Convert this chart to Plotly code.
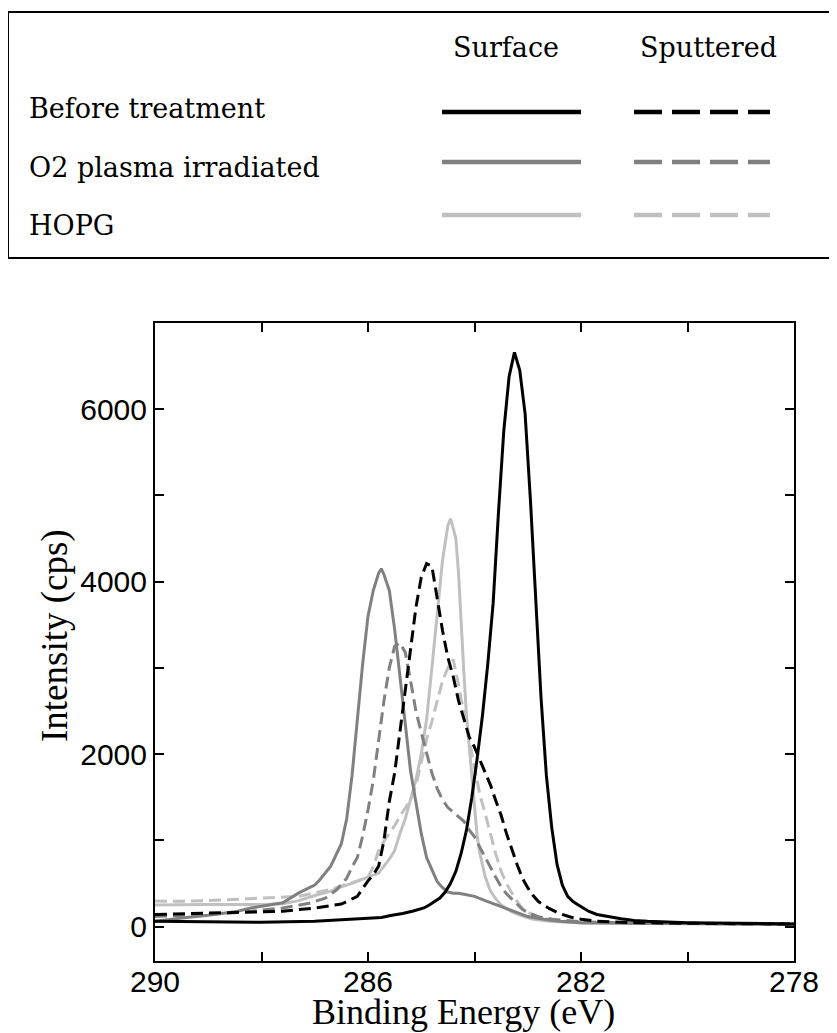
import plotly.graph_objects as go

# ---------------- data (binding energy in eV, intensity in cps) ----------------
before_surface_E = [290.0, 289.0, 288.0, 287.0, 286.5, 285.95, 285.75, 285.55, 285.35, 285.15, 285.05,
                    284.95, 284.85, 284.75, 284.65, 284.55, 284.45, 284.35, 284.25, 284.15, 284.05,
                    283.95, 283.85, 283.75, 283.65, 283.55, 283.45, 283.35, 283.25, 283.15, 283.05,
                    282.95, 282.85, 282.75, 282.65, 282.55, 282.45, 282.35, 282.25, 282.15, 282.05,
                    281.95, 281.85, 281.7, 281.5, 281.25, 281.0, 280.75, 280.0, 279.0, 278.0]
before_surface_I = [60, 55, 50, 60, 75, 95, 105, 130, 150, 180, 195,
                    215, 250, 285, 330, 400, 500, 640, 850, 1120, 1500,
                    1950, 2450, 3050, 3750, 4800, 5750, 6380, 6660, 6450, 5950,
                    4950, 3750, 2650, 1750, 1150, 720, 480, 350, 290, 250,
                    210, 175, 140, 115, 90, 70, 60, 45, 35, 30]

before_sputter_E = [290.0, 289.0, 288.8, 288.0, 287.6, 287.0, 286.5, 286.2, 286.0, 285.9, 285.8,
                    285.7, 285.6, 285.5, 285.4, 285.3, 285.2, 285.1, 285.0, 284.9, 284.8,
                    284.7, 284.6, 284.5, 284.4, 284.3, 284.2, 284.1, 284.0, 283.9, 283.8,
                    283.7, 283.6, 283.5, 283.4, 283.3, 283.2, 283.1, 283.0, 282.9, 282.8,
                    282.6, 282.4, 282.2, 282.0, 281.7, 281.0, 280.0, 279.0, 278.0]
before_sputter_I = [140, 155, 160, 165, 177, 215, 260, 350, 530, 600, 700,
                    1000, 1450, 1780, 2250, 2750, 3200, 3700, 4050, 4210, 4180,
                    3780, 3430, 3120, 2900, 2620, 2400, 2200, 2080, 1930, 1790,
                    1640, 1460, 1290, 1080, 890, 720, 560, 450, 360, 290,
                    210, 150, 110, 85, 60, 45, 38, 32, 28]

o2_surface_E = [290.0, 289.5, 289.0, 288.5, 288.2, 287.8, 287.6, 287.3, 287.0, 286.9, 286.7,
                286.5, 286.4, 286.3, 286.2, 286.1, 286.0, 285.9, 285.8, 285.75, 285.7,
                285.6, 285.5, 285.4, 285.3, 285.2, 285.1, 285.0, 284.9, 284.8, 284.7,
                284.6, 284.5, 284.4, 284.3, 284.2, 284.0, 283.8, 283.5, 283.3, 283.0,
                282.7, 282.4, 282.0, 281.0, 280.0, 279.0, 278.0]
o2_surface_I = [60, 100, 130, 170, 215, 250, 275, 390, 480, 545, 700,
                960, 1250, 1750, 2400, 3050, 3600, 3900, 4100, 4150, 4080,
                3900, 3450, 2860, 2350, 1800, 1450, 1080, 800, 650, 520,
                450, 400, 385, 385, 375, 350, 300, 230, 180, 115,
                85, 60, 45, 38, 32, 28, 25]

o2_sputter_E = [290.0, 289.5, 289.0, 288.5, 288.2, 287.6, 287.1, 286.8, 286.6, 286.4, 286.3,
                286.2, 286.1, 286.0, 285.9, 285.8, 285.7, 285.6, 285.5, 285.4, 285.3,
                285.2, 285.1, 285.0, 284.9, 284.8, 284.7, 284.6, 284.5, 284.4, 284.3,
                284.2, 284.1, 284.0, 283.9, 283.8, 283.7, 283.6, 283.5, 283.4, 283.3,
                283.2, 283.1, 283.0, 282.8, 282.5, 282.0, 281.0, 280.0, 279.0, 278.0]
o2_sputter_I = [115, 130, 140, 160, 177, 215, 270, 330, 420, 560, 690,
                800, 1050, 1350, 1700, 2150, 2620, 3000, 3250, 3290, 3180,
                2850, 2500, 2250, 2000, 1780, 1600, 1470, 1380, 1330, 1270,
                1220, 1120, 1040, 920, 800, 690, 570, 460, 380, 320,
                260, 200, 160, 115, 80, 55, 40, 35, 30, 27]

hopg_surface_E = [290.0, 289.5, 289.0, 288.5, 288.0, 287.6, 287.3, 287.0, 286.7, 286.5, 286.3,
                  286.1, 285.9, 285.8, 285.7, 285.6, 285.5, 285.4, 285.3, 285.2, 285.1,
                  285.0, 284.9, 284.8, 284.7, 284.6, 284.5, 284.45, 284.4, 284.35, 284.3,
                  284.25, 284.2, 284.15, 284.1, 284.05, 284.0, 283.95, 283.9, 283.8, 283.7,
                  283.6, 283.5, 283.3, 283.1, 282.9, 282.6, 282.0, 281.0, 280.0, 279.0, 278.0]
hopg_surface_I = [250, 255, 255, 255, 255, 265, 300, 360, 410, 460, 500,
                  550, 600, 620, 700, 780, 880, 1080, 1250, 1480, 1700,
                  2000, 2400, 3000, 3600, 4250, 4650, 4730, 4620, 4500, 4100,
                  3450, 2950, 2450, 2100, 1750, 1450, 1050, 850, 580, 410,
                  320, 250, 170, 120, 85, 60, 42, 35, 30, 27, 25]

hopg_sputter_E = [290.0, 289.5, 289.0, 288.2, 287.3, 286.7, 286.3, 286.0, 285.9, 285.8, 285.7,
                  285.6, 285.5, 285.4, 285.3, 285.2, 285.1, 285.0, 284.9, 284.8, 284.7,
                  284.6, 284.5, 284.4, 284.3, 284.2, 284.1, 284.0, 283.9, 283.8, 283.7,
                  283.6, 283.5, 283.4, 283.3, 283.2, 283.1, 283.0, 282.8, 282.5, 282.0,
                  281.0, 280.0, 279.0, 278.0]
hopg_sputter_I = [295, 293, 300, 320, 350, 430, 505, 570, 700, 880, 990,
                  1080, 1170, 1280, 1380, 1470, 1640, 1900, 2170, 2380, 2600,
                  2850, 3000, 3100, 2800, 2480, 2160, 1880, 1530, 1310, 1060,
                  840, 640, 500, 390, 290, 210, 165, 105, 70, 45,
                  38, 33, 30, 28]

x_tick_vals = [290, 288, 286, 284, 282, 280, 278]
x_tick_text = ["290", "", "286", "", "282", "", "278"]
y_tick_vals = [0, 1000, 2000, 3000, 4000, 5000, 6000]
y_tick_text = ["0", "", "2000", "", "4000", "", "6000"]

legend_rows = ["Before treatment", "O2 plasma irradiated", "HOPG"]
legend_cols = ["Surface", "Sputtered"]

# ---------------- styling ----------------
BLACK, DARK, LIGHT = "#000000", "#808080", "#c0c0c0"
PAGE_W, PAGE_H = 837, 1033
OFF = 8                            # default page body margin
W, H = PAGE_W - OFF, PAGE_H - OFF
L, R, T, B = 155, 794, 323, 961   # plot area in page pixels


def px2x(px):
    return (px - L) / (R - L)


def py2y(py):
    return (B - py) / (B - T)


DASH = "12px,6px"
LW = 3

fig = go.Figure()
series = [
    (hopg_surface_E, hopg_surface_I, LIGHT, "solid", "HOPG Surface"),
    (hopg_sputter_E, hopg_sputter_I, LIGHT, DASH, "HOPG Sputtered"),
    (o2_surface_E, o2_surface_I, DARK, "solid", "O2 plasma irradiated Surface"),
    (o2_sputter_E, o2_sputter_I, DARK, DASH, "O2 plasma irradiated Sputtered"),
    (before_surface_E, before_surface_I, BLACK, "solid", "Before treatment Surface"),
    (before_sputter_E, before_sputter_I, BLACK, DASH, "Before treatment Sputtered"),
]
for xs, ys, col, dash, name in series:
    fig.add_trace(go.Scatter(x=xs, y=ys, mode="lines", name=name,
                             line=dict(color=col, width=LW, dash=dash),
                             showlegend=False))

axis_common = dict(showline=True, linewidth=2, linecolor="black", mirror="ticks",
                   ticks="inside", ticklen=9, tickwidth=2, tickcolor="black",
                   showgrid=False, zeroline=False,
                   tickfont=dict(family="Liberation Sans, Arial, sans-serif", size=30, color="black"))

fig.update_xaxes(range=[290, 278], tickmode="array", tickvals=x_tick_vals,
                 ticktext=x_tick_text, ticklabelstandoff=-7, **axis_common)
fig.update_yaxes(range=[-400, 7000], tickmode="array", tickvals=y_tick_vals,
                 ticktext=y_tick_text, **axis_common)

title_font = dict(family="Liberation Serif, Times New Roman, serif", size=36, color="black")
annotations = [
    dict(text="Binding Energy (eV)", x=px2x(463), y=py2y(1012), xref="paper", yref="paper",
         showarrow=False, xanchor="center", yanchor="middle", font=title_font),
    dict(text="Intensity (cps)", x=px2x(55), y=py2y(636), xref="paper", yref="paper",
         showarrow=False, xanchor="center", yanchor="middle", textangle=-90,
         font=dict(family="Liberation Serif, Times New Roman, serif", size=37, color="black")),
]

leg_font = dict(family="DejaVu Serif, serif", size=27, color="black")
# column headers
for label, cx in zip(legend_cols, [506, 708]):
    annotations.append(dict(text=label, x=px2x(cx), y=py2y(48), xref="paper", yref="paper",
                            showarrow=False, xanchor="center", yanchor="middle", font=leg_font))
# row labels
for label, cy in zip(legend_rows, [109, 167, 225]):
    annotations.append(dict(text=label, x=px2x(27), y=py2y(cy), xref="paper", yref="paper",
                            showarrow=False, xanchor="left", yanchor="middle", font=leg_font))

shapes = [dict(type="rect", xref="paper", yref="paper", x0=px2x(8), x1=px2x(850),
               y0=py2y(258), y1=py2y(12), line=dict(color="black", width=2))]
for col, ly in zip([BLACK, DARK, LIGHT], [112, 162, 215]):
    shapes.append(dict(type="line", xref="paper", yref="paper", x0=px2x(442), x1=px2x(581),
                       y0=py2y(ly), y1=py2y(ly), line=dict(color=col, width=4.5)))
    shapes.append(dict(type="line", xref="paper", yref="paper", x0=px2x(634), x1=px2x(770),
                       y0=py2y(ly), y1=py2y(ly), line=dict(color=col, width=4.5, dash="28px,10px")))

fig.update_layout(width=W, height=H,
                  margin=dict(l=L - OFF, r=PAGE_W - R, t=T - OFF, b=PAGE_H - B),
                  plot_bgcolor="white", paper_bgcolor="white",
                  annotations=annotations, shapes=shapes, showlegend=False)

fig.write_html("out.html")
